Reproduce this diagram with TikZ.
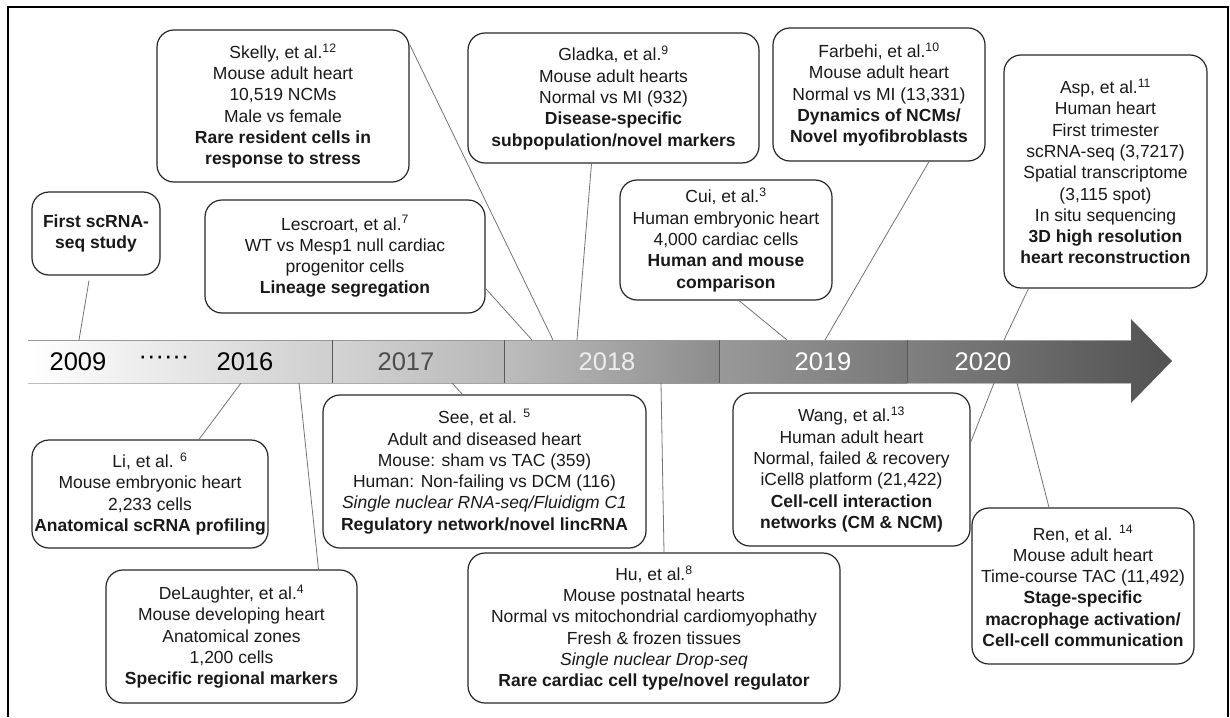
\documentclass[tikz,border=0pt]{standalone}
\usepackage{fontspec}
\setmainfont{Liberation Sans}
\usepackage{tikz}
\usetikzlibrary{calc}
\tikzset{
  study/.style   = {draw=black!85, line width=1.2pt, rounded corners=17pt,
                    align=center, inner sep=0pt, text=black!90,
                    font=\fontsize{17.5}{21.3}\selectfont},
  link/.style    = {draw=black!55, line width=0.8pt},
  yearlbl/.style = {inner sep=0pt, font=\fontsize{25.5}{28}\selectfont},
  segline/.style = {draw=black!65, line width=0.8pt},
}

\begin{document}
\begin{tikzpicture}[x=1pt,y=-1pt]
\useasboundingbox (0,0) rectangle (1230,717);
\draw[line width=1.8pt] (8,717) -- (8,7) -- (1228,7) -- (1228,717);

\shade[left color=white, right color=black!19] (28,340) rectangle (332,383);
\shade[left color=black!17, right color=black!28] (332,340) rectangle (504,383);
\shade[left color=black!26, right color=black!45] (504,340) rectangle (719,383);
\shade[left color=black!40, right color=black!53] (719,340) rectangle (907,383);
\shade[left color=black!50, right color=black!68] (907,340) -- (1131,340) -- (1131,319)
  -- (1172,361) -- (1131,403) -- (1131,383) -- (907,383) -- cycle;
\draw[black!40, line width=0.6pt] (28,340) -- (1131,340) (1131,383) -- (28,383) -- cycle;
\foreach \x in {332,504,719,907} \draw[segline] (\x,340) -- (\x,383);

\node[yearlbl] (y09) at (78,362) {2009};
\node[yearlbl] (ydots) at (164,360) {······};
\node[yearlbl] (y16) at (245,362) {2016};
\node[yearlbl, text=black!70] (y17) at (406,362) {2017};
\node[yearlbl, text=black!7] (y18) at (607,362) {2018};
\node[yearlbl, text=white] (y19) at (823,362) {2019};
\node[yearlbl, text=white] (y20) at (983,362) {2020};

\coordinate (p09) at (79,340);
\coordinate (plesc) at (532,340);
\coordinate (pskel) at (553,340);
\coordinate (pglad) at (577,340);
\coordinate (pcui) at (787,340);
\coordinate (pfarb) at (825,340);
\coordinate (pasp) at (1004,340);
\coordinate (pli) at (241,383);
\coordinate (pdel) at (299,383);
\coordinate (psee) at (452,383);
\coordinate (phu) at (661,383);
\coordinate (pwang) at (994,383);
\coordinate (pren) at (1017,383);

\node[study, minimum width=252pt, minimum height=152pt] (skelly) at (283,106)
  {Skelly, et al.\textsuperscript{12}\\Mouse adult heart\\10,519 NCMs\\Male vs female\\
   \textbf{Rare resident cells in}\\\textbf{response to stress}};
\node[study, minimum width=128pt, minimum height=83pt] (first) at (96,233.5)
  {\textbf{First scRNA-}\\\textbf{seq study}};
\node[study, minimum width=280pt, minimum height=113pt] (lescroart) at (345,256.5)
  {Lescroart, et al.\textsuperscript{7}\\WT vs Mesp1 null cardiac\\progenitor cells\\
   \textbf{Lineage segregation}};
\node[study, minimum width=291pt, minimum height=130pt] (gladka) at (613.5,98)
  {Gladka, et al.\textsuperscript{9}\\Mouse adult hearts\\Normal vs MI (932)\\
   \textbf{Disease-specific}\\\textbf{subpopulation/novel markers}};
\node[study, minimum width=212pt, minimum height=133pt] (farbehi) at (879,94.5)
  {Farbehi, et al.\textsuperscript{10}\\Mouse adult heart\\Normal vs MI (13,331)\\
   \textbf{Dynamics of NCMs/}\\\textbf{Novel myofibroblasts}};
\node[study, minimum width=212pt, minimum height=120pt] (cui) at (726,240)
  {Cui, et al.\textsuperscript{3}\\Human embryonic heart\\4,000 cardiac cells\\
   \textbf{Human and mouse}\\\textbf{comparison}};
\node[study, minimum width=203pt, minimum height=233pt] (asp) at (1105.5,171.5)
  {Asp, et al.\textsuperscript{11}\\Human heart\\First trimester\\scRNA-seq (3,7217)\\
   Spatial transcriptome\\(3,115 spot)\\In situ sequencing\\
   \textbf{3D high resolution}\\\textbf{heart reconstruction}};
\node[study, minimum width=236pt, minimum height=108pt] (li) at (150,494)
  {Li, et al. \textsuperscript{6}\\Mouse embryonic heart\\2,233 cells\\
   \textbf{Anatomical scRNA profiling}};
\node[study, minimum width=251pt, minimum height=133pt] (delaughter) at (231.5,636.5)
  {DeLaughter, et al.\textsuperscript{4}\\Mouse developing heart\\Anatomical zones\\
   1,200 cells\\\textbf{Specific regional markers}};
\node[study, minimum width=323pt, minimum height=153pt] (see) at (484.5,471.5)
  {See, et al. \textsuperscript{5}\\Adult and diseased heart\\Mouse: sham vs TAC (359)\\
   Human: Non-failing vs DCM (116)\\\textit{Single nuclear RNA-seq/Fluidigm C1}\\
   \textbf{Regulatory network/novel lincRNA}};
\node[study, minimum width=372pt, minimum height=150pt] (hu) at (654,628)
  {Hu, et al.\textsuperscript{8}\\Mouse postnatal hearts\\
   Normal vs mitochondrial cardiomyophathy\\Fresh \& frozen tissues\\
   \textit{Single nuclear Drop-seq}\\\textbf{Rare cardiac cell type/novel regulator}};
\node[study, minimum width=237pt, minimum height=153pt] (wang) at (851.5,469.5)
  {Wang, et al.\textsuperscript{13}\\Human adult heart\\Normal, failed \& recovery\\
   iCell8 platform (21,422)\\\textbf{Cell-cell interaction}\\\textbf{networks (CM \& NCM)}};
\node[study, minimum width=222pt, minimum height=156pt] (ren) at (1083,586)
  {Ren, et al. \textsuperscript{14}\\Mouse adult heart\\Time-course TAC (11,492)\\
   \textbf{Stage-specific}\\\textbf{macrophage activation/}\\\textbf{Cell-cell communication}};

\draw[link] ($(first.south)+(-7,5)$) -- (p09);
\draw[link] ($(skelly.north east)+(0,15)$) -- (pskel);
\draw[link] ($(lescroart.east)+(0,32)$) -- (plesc);
\draw[link] ($(gladka.south)+(-22,0)$) -- (pglad);
\draw[link] ($(cui.south)+(13,0)$) -- (pcui);
\draw[link] ($(farbehi.south)+(50,0)$) -- (pfarb);
\draw[link] ($(asp.south)+(-77,0)$) -- (pasp);
\draw[link] (pli) -- ($(li.north)+(49,0)$);
\draw[link] (pdel) -- ($(delaughter.north)+(87,0)$);
\draw[link] (psee) -- ($(see.north)+(-22,0)$);
\draw[link] (phu) -- ($(hu.north)+(10,0)$);
\draw[link] (pwang) -- ($(wang.east)+(0,-27)$);
\draw[link] (pren) -- ($(ren.north)+(-34,0)$);
\end{tikzpicture}
\end{document}
